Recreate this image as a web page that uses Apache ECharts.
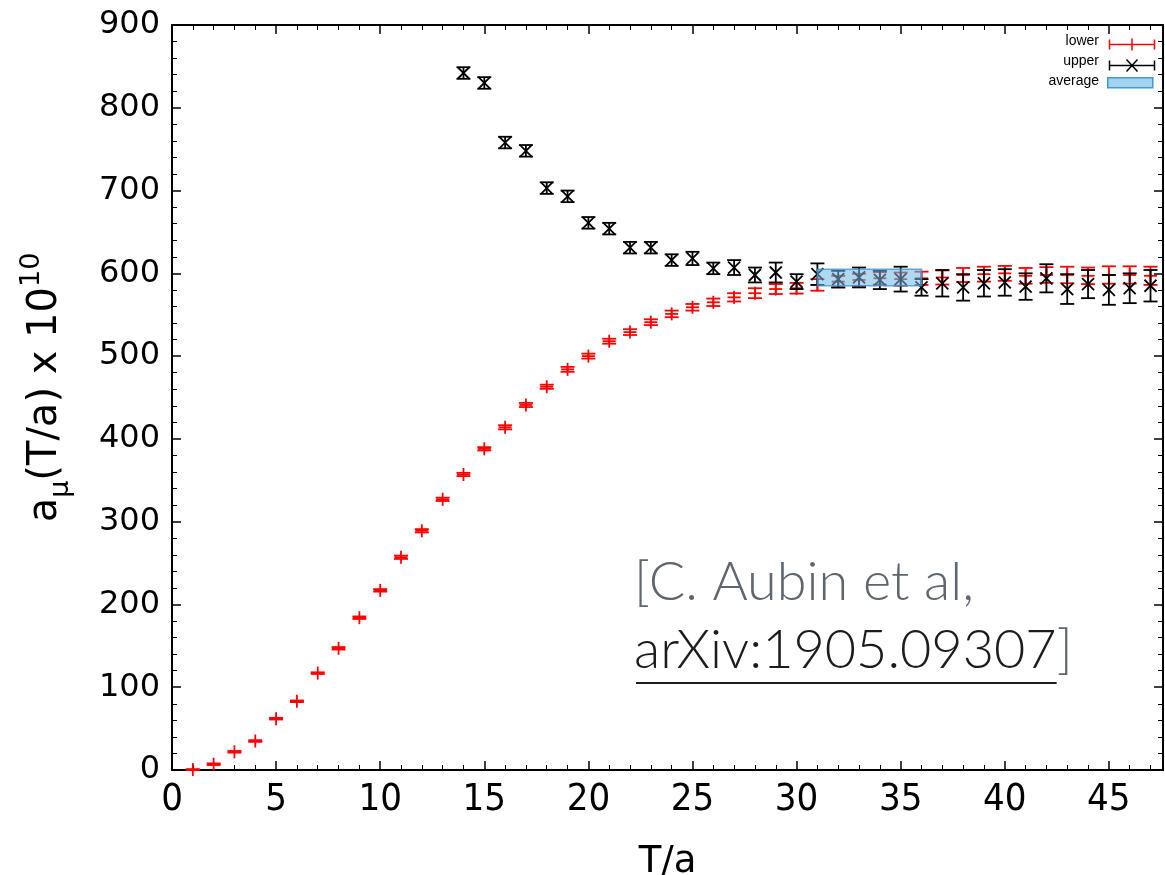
<!DOCTYPE html>
<html>
<head>
<meta charset="utf-8">
<title>a_mu(T/a)</title>
<script src="https://cdn.jsdelivr.net/npm/echarts@6/dist/echarts.min.js"></script>
<style>
  html, body { margin: 0; padding: 0; background: #fff; }
  #chart { width: 1165px; height: 875px; }
</style>
</head>
<body>
<div id="chart"></div>
<script>
// Euclidean time slices
const lowerT = [1,2,3,4,5,6,7,8,9,10,11,12,13,14,15,16,17,18,19,20,21,22,23,24,25,26,27,28,29,30,31,32,33,34,35,36,37,38,39,40,41,42,43,44,45,46,47];
// lower bound on a_mu(T/a) x 10^10
const lowerVal = [0.5,7,22,35,62,83,117,147,184,217,257,289,327,357,388,414,441,463,484,500,518,529,541,551,559,565,571,576,581,582,586,590,592,594,593,594,595,598,599,600,597,598,598,597,598,598,597];
const lowerErr = [0.5,1,1,1,1,1,1,1.5,1.5,1.5,2,2,2,2,2,2.5,2.5,2.5,3,3,3,3.5,3.5,4,4,4.5,5,6,6,6.5,7,7,7.5,7.5,8,8,8.5,8.5,9,9,9.5,9.5,10,10,10.5,10.5,11];

// upper bound on a_mu(T/a) x 10^10
const upperT = [14,15,16,17,18,19,20,21,22,23,24,25,26,27,28,29,30,31,32,33,34,35,36,37,38,39,40,41,42,43,44,45,46,47];
const upperVal = [842,830,758,748,703,693,661,654,631,631,616,618,606,607,598,601,590,599,593,595,592,593,583,588,583,588,589,584,594,581,587,580,582,585];
const upperErr = [7,7,7,7,7,7,7,7,7,7,7,8,7,9,9,12,9,13,10,12,11,15,10,16,16,16,16,16,17,18,17,18,18,19];

// averaged plateau: [T from, T to, low, high]
const averageBand = [[31, 36, 585, 605]];

const xTicks = { min: 0, max: 47.6, interval: 5 };
const yTicks = { min: 0, max: 900, interval: 100 };

const chart = echarts.init(document.getElementById('chart'), null, { renderer: 'canvas' });

const CAP = 7;

function errorBarItem(kind, color) {
  return function (params, api) {
    const t = api.value(0), v = api.value(1), e = api.value(2);
    const c = api.coord([t, v]);
    const top = api.coord([t, v + e]);
    const bot = api.coord([t, v - e]);
    const st = { stroke: color, lineWidth: 1.8, fill: null };
    const kids = [
      { type: 'line', shape: { x1: c[0], y1: top[1], x2: c[0], y2: bot[1] }, style: st },
      { type: 'line', shape: { x1: c[0] - CAP, y1: top[1], x2: c[0] + CAP, y2: top[1] }, style: st },
      { type: 'line', shape: { x1: c[0] - CAP, y1: bot[1], x2: c[0] + CAP, y2: bot[1] }, style: st }
    ];
    if (kind === 'plus') {
      kids.push({ type: 'line', shape: { x1: c[0] - 6.5, y1: c[1], x2: c[0] + 6.5, y2: c[1] }, style: st });
      kids.push({ type: 'line', shape: { x1: c[0], y1: c[1] - 6.5, x2: c[0], y2: c[1] + 6.5 }, style: st });
    } else {
      kids.push({ type: 'line', shape: { x1: c[0] - 6, y1: c[1] - 6, x2: c[0] + 6, y2: c[1] + 6 }, style: st });
      kids.push({ type: 'line', shape: { x1: c[0] - 6, y1: c[1] + 6, x2: c[0] + 6, y2: c[1] - 6 }, style: st });
    }
    return { type: 'group', children: kids };
  };
}

const lowerData = lowerT.map((t, i) => [t, lowerVal[i], lowerErr[i]]);
const upperData = upperT.map((t, i) => [t, upperVal[i], upperErr[i]]);

// text measurement for the citation underline
const mctx = document.createElement('canvas').getContext('2d');
const citeFont = '300 54px Lato';
mctx.font = citeFont;
const arxivText = 'arXiv:1905.09307';
const arxivW = mctx.measureText(arxivText).width;
const citeX = 634;

const axisFont = 'DejaVu Sans';
const axisFontNarrow = '"DejaVu Sans Condensed", "DejaVu Sans"';

const baseAxis = {
  axisLine: { show: true, onZero: false, lineStyle: { color: '#000', width: 2 } },
  axisTick: { show: true, inside: true, length: 9, lineStyle: { color: '#000', width: 1.5 } },
  minorTick: { show: true, splitNumber: 5, length: 5, lineStyle: { color: '#000', width: 1 } },
  splitLine: { show: false },
  minorSplitLine: { show: false }
};

const option = {
  backgroundColor: '#fff',
  animation: false,
  grid: { left: 172, top: 25, right: 2, bottom: 105, containLabel: false, outerBoundsMode: 'none' },
  xAxis: [
    Object.assign({}, baseAxis, {
      type: 'value', position: 'bottom', min: xTicks.min, max: xTicks.max, interval: xTicks.interval,
      axisLabel: { show: true, fontFamily: axisFontNarrow, fontSize: 38, color: '#000', margin: 11, showMaxLabel: false },
      name: 'T/a', nameLocation: 'middle', nameGap: 74,
      nameTextStyle: { fontFamily: axisFont, fontSize: 37, color: '#000' }
    }),
    Object.assign({}, baseAxis, {
      type: 'value', position: 'top', min: xTicks.min, max: xTicks.max, interval: xTicks.interval,
      axisLabel: { show: false }
    })
  ],
  yAxis: [
    Object.assign({}, baseAxis, {
      type: 'value', position: 'left', min: yTicks.min, max: yTicks.max, interval: yTicks.interval,
      axisLabel: { show: true, fontFamily: axisFont, fontSize: 32, color: '#000', margin: 12 },
      name: '{m|a}{sub|μ}{m|(T/a) x 10}{sup|10}',
      nameLocation: 'middle', nameGap: 98, nameRotate: 90,
      nameTextStyle: {
        fontFamily: axisFont, fontSize: 40, color: '#000', padding: [0, 0, 0, 20],
        rich: {
          m: { fontFamily: axisFont, fontSize: 40, color: '#000', lineHeight: 56, verticalAlign: 'middle' },
          sub: { fontFamily: axisFont, fontSize: 27, color: '#000', lineHeight: 27, verticalAlign: 'bottom' },
          sup: { fontFamily: axisFont, fontSize: 27, color: '#000', lineHeight: 27, verticalAlign: 'top' }
        }
      }
    }),
    Object.assign({}, baseAxis, {
      type: 'value', position: 'right', min: yTicks.min, max: yTicks.max, interval: yTicks.interval,
      axisLabel: { show: false }
    })
  ],
  series: [
    {
      name: 'lower', type: 'custom', xAxisIndex: 0, yAxisIndex: 0, clip: false,
      renderItem: errorBarItem('plus', '#ff0000'), data: lowerData, z: 2
    },
    {
      name: 'upper', type: 'custom', xAxisIndex: 0, yAxisIndex: 0, clip: false,
      renderItem: errorBarItem('cross', '#000000'), data: upperData, z: 3
    },
    {
      name: 'average', type: 'custom', xAxisIndex: 0, yAxisIndex: 0,
      renderItem: function (params, api) {
        const p0 = api.coord([api.value(0), api.value(3)]);
        const p1 = api.coord([api.value(1), api.value(2)]);
        return {
          type: 'rect',
          shape: { x: p0[0], y: p0[1], width: p1[0] - p0[0], height: p1[1] - p0[1] },
          style: { fill: 'rgba(110,185,230,0.55)', stroke: 'rgba(60,150,215,0.8)', lineWidth: 1.5 }
        };
      },
      data: averageBand, z: 4
    }
  ],
  graphic: [
    // key
    { type: 'text', right: 1165 - 1099, top: 34, style: { text: 'lower', font: '14px "Liberation Sans"', fill: '#000', align: 'right' } },
    { type: 'group', left: 1107, top: 36, children: [
      { type: 'line', shape: { x1: 0, y1: 5, x2: 45, y2: 5 }, style: { stroke: '#ff0000', lineWidth: 1.5 } },
      { type: 'line', shape: { x1: 0, y1: 0, x2: 0, y2: 10 }, style: { stroke: '#ff0000', lineWidth: 1.5 } },
      { type: 'line', shape: { x1: 45, y1: 0, x2: 45, y2: 10 }, style: { stroke: '#ff0000', lineWidth: 1.5 } },
      { type: 'line', shape: { x1: 22.5, y1: -1, x2: 22.5, y2: 11 }, style: { stroke: '#ff0000', lineWidth: 1.5 } }
    ] },
    { type: 'text', right: 1165 - 1099, top: 54, style: { text: 'upper', font: '14px "Liberation Sans"', fill: '#000', align: 'right' } },
    { type: 'group', left: 1107, top: 57, children: [
      { type: 'line', shape: { x1: 0, y1: 6, x2: 45, y2: 6 }, style: { stroke: '#000', lineWidth: 1.5 } },
      { type: 'line', shape: { x1: 0, y1: 1, x2: 0, y2: 11 }, style: { stroke: '#000', lineWidth: 1.5 } },
      { type: 'line', shape: { x1: 45, y1: 1, x2: 45, y2: 11 }, style: { stroke: '#000', lineWidth: 1.5 } },
      { type: 'line', shape: { x1: 17, y1: 0, x2: 28, y2: 12 }, style: { stroke: '#000', lineWidth: 1.5 } },
      { type: 'line', shape: { x1: 17, y1: 12, x2: 28, y2: 0 }, style: { stroke: '#000', lineWidth: 1.5 } }
    ] },
    { type: 'text', right: 1165 - 1099, top: 74, style: { text: 'average', font: '14px "Liberation Sans"', fill: '#000', align: 'right' } },
    { type: 'rect', left: 1107, top: 77, shape: { x: 0, y: 0, width: 45, height: 10 },
      style: { fill: 'rgba(140,200,235,0.8)', stroke: '#3d9ad6', lineWidth: 1.5 } },

    // citation
    { type: 'text', x: citeX, y: 556, style: { text: '[C. Aubin et al,', font: citeFont, fill: '#60666e' } },
    { type: 'text', x: citeX, y: 624, style: { text: arxivText, font: citeFont, fill: '#1c1c1c' } },
    { type: 'text', x: citeX + arxivW, y: 624, style: { text: ']', font: citeFont, fill: '#60666e' } },
    { type: 'line', shape: { x1: citeX + 2, y1: 683, x2: citeX + arxivW, y2: 683 }, style: { stroke: '#1c1c1c', lineWidth: 2 } }
  ]
};

chart.setOption(option);
</script>
</body>
</html>
